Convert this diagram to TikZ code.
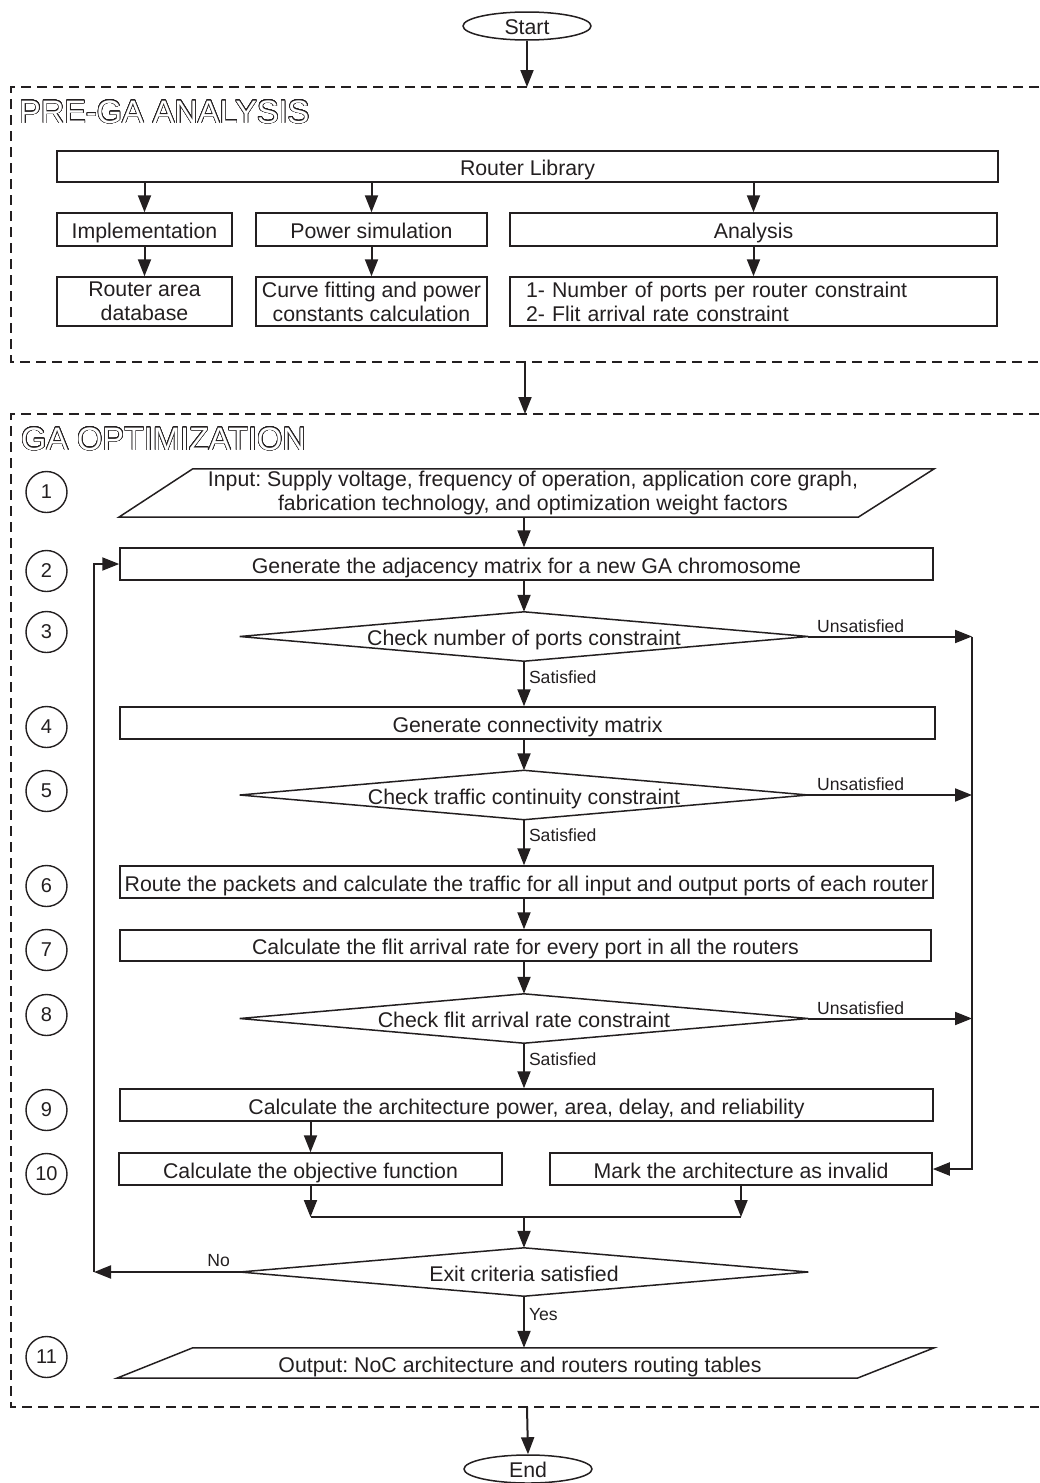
\documentclass[tikz,border=0pt]{standalone}
\usepackage{fontspec}
\setmainfont{Liberation Sans}
\usepackage{contour}
\usetikzlibrary{arrows.meta,shapes.geometric,calc}

\definecolor{ink}{RGB}{35,31,32}
\newcommand\bodyfont{\fontsize{21.3}{24}\selectfont}
\newcommand\labelfont{\fontsize{17.6}{20}\selectfont}
\newcommand\titlefont{\fontsize{32.5}{36}\selectfont}
\newcommand\numfont{\fontsize{20}{22}\selectfont}
\contourlength{0.6pt}
\contournumber{32}
\frenchspacing

\tikzset{
  box/.style={draw=ink, line width=1.5pt, inner sep=0pt, align=center, font=\bodyfont, text=ink},
  plain/.style={inner sep=0pt, align=center, font=\bodyfont, text=ink},
  oneline/.style={text height=18.2pt, text depth=0pt},
  outline/.style={draw=ink, line width=1.5pt},
  arr/.style={draw=ink, line width=2pt, -{Triangle[length=17pt,width=13pt]}},
  wire/.style={draw=ink, line width=2pt},
  frame/.style={draw=ink, line width=1.5pt, dash pattern=on 10pt off 6pt},
  stepnum/.style={circle, draw=ink, line width=1.4pt, minimum size=41pt, inner sep=0pt, font=\numfont, text=ink},
  lab/.style={font=\labelfont, text=ink, inner sep=0pt},
  term/.style={ellipse, draw=ink, line width=1.5pt, minimum width=128pt, minimum height=28pt, inner sep=0pt, font=\bodyfont, text=ink, text height=17pt, text depth=0pt},
  title/.style={anchor=base west, font=\titlefont, inner sep=0pt},
}

\begin{document}
\begin{tikzpicture}[x=1pt,y=-1pt]
\useasboundingbox (0,0) rectangle (1039,1483);

% ---------- terminals ----------
\node[term] (start) at (527,26) {Start};
\node[term] (end) at (528,1469) {End};

% ---------- frames ----------
\coordinate (preTop) at (527,87);
\coordinate (preBot) at (525,362);
\coordinate (gaTop) at (525,414);
\coordinate (gaBot) at (527,1407);
\draw[frame] (1039,87) -- (11,87) -- (11,362) -- (1039,362);
\draw[frame] (1039,414) -- (11,414) -- (11,1407) -- (1039,1407);
\node[title] (pretitle) at (19,123) {\color{white}\contour{ink}{PRE-GA ANALYSIS}};
\node[title] (gatitle) at (21,450) {\color{white}\contour{ink}{GA OPTIMIZATION}};

% ---------- pre-GA analysis ----------
\node[box, oneline, minimum width=941pt, minimum height=31pt] (rl) at (527.5,166.5) {Router Library};
\node[box, oneline, minimum width=175pt, minimum height=33pt] (impl) at (144.5,229.5) {Implementation};
\node[box, oneline, minimum width=231pt, minimum height=33pt] (pow) at (371.5,229.5) {Power simulation};
\node[box, oneline, minimum width=487pt, minimum height=33pt] (ana) at (753.5,229.5) {Analysis};
\node[box, minimum width=175pt, minimum height=49pt] (rad) at (144.5,301.5) {Router area\\database};
\node[box, minimum width=231pt, minimum height=49pt] (cfit) at (371.5,301.5) {Curve fitting and power\\constants calculation};
\node[box, minimum height=49pt, align=left, text width=455pt, inner xsep=16pt] (cons) at (753.5,301.5)
  {1- Number of ports per router constraint\\2- Flit arrival rate constraint};

\draw[arr] (rl.south -| impl.north) -- (impl.north);
\draw[arr] (rl.south -| pow.north) -- (pow.north);
\draw[arr] (rl.south -| ana.north) -- (ana.north);
\draw[arr] (impl.south) -- (rad.north);
\draw[arr] (pow.south) -- (cfit.north);
\draw[arr] (ana.south) -- (cons.north);

\draw[arr] (start.south) -- (preTop);
\draw[arr] (preBot) -- (gaTop);
\draw[arr] (gaBot) -- (end.north);

% ---------- GA optimization ----------
\coordinate (col) at (524,0);
\coordinate (rail) at (972,0);
\coordinate (loop) at (94,0);
\coordinate (jn) at (524,1217);

\node[plain, minimum width=815pt, minimum height=48pt] (inp) at (526.5,493)
  {\hspace*{13pt}Input: Supply voltage, frequency of operation, application core graph,\\\hspace*{13pt}fabrication technology, and optimization weight factors};
\draw[outline] (inp.south west) -- ($(inp.north west)+(74,0)$) -- (inp.north east) -- ($(inp.south east)+(-76,0)$) -- cycle;

\node[box, oneline, minimum width=813pt, minimum height=32pt] (adj) at (526.5,564) {Generate the adjacency matrix for a new GA chromosome};
\node[plain, oneline, minimum width=568pt, minimum height=49pt] (d3) at (524,636.5) {Check number of ports constraint};
\node[box, oneline, minimum width=815pt, minimum height=32pt] (conn) at (527.5,723) {Generate connectivity matrix};
\node[plain, oneline, minimum width=568pt, minimum height=49pt] (d5) at (524,795) {Check traffic continuity constraint};
\node[box, oneline, minimum width=813pt, minimum height=32pt] (route) at (526.5,882) {Route the packets and calculate the traffic for all input and output ports of each router};
\node[box, oneline, minimum width=811pt, minimum height=31pt] (flit) at (525.5,945.5) {Calculate the flit arrival rate for every port in all the routers};
\node[plain, oneline, minimum width=568pt, minimum height=49pt] (d8) at (524,1018.5) {Check flit arrival rate constraint};
\node[box, oneline, minimum width=813pt, minimum height=32pt] (arch) at (526.5,1105) {Calculate the architecture power, area, delay, and reliability};
\node[box, oneline, minimum width=383pt, minimum height=32pt] (obj) at (310.5,1169) {Calculate the objective function};
\node[box, oneline, minimum width=382pt, minimum height=32pt] (mark) at (741,1169) {Mark the architecture as invalid};
\node[plain, oneline, minimum width=568pt, minimum height=48pt] (exit) at (524,1272) {Exit criteria satisfied};
\node[plain, oneline, minimum width=817pt, minimum height=30pt] (out) at (525.5,1363) {\hspace*{-11pt}Output: NoC architecture and routers routing tables};
\draw[outline] (out.south west) -- ($(out.north west)+(76,0)$) -- (out.north east) -- ($(out.south east)+(-77,0)$) -- cycle;

\foreach \d in {d3,d5,d8,exit}
  \draw[outline] (\d.west) -- (\d.north) -- (\d.east) -- (\d.south) -- cycle;

% step numbers
\foreach \n/\y in {1/492,2/571,3/632,4/727,5/791,6/886,7/950,8/1015,9/1110,10/1174,11/1357}
  \node[stepnum] (s\n) at (46.5,\y) {\n};

% main flow
\draw[arr] (inp.south -| col) -- (adj.north -| col);
\draw[arr] (adj.south -| col) -- (d3.north);
\draw[arr] (d3.south) -- node[lab, pos=0.35, right=4pt] {Satisfied} (conn.north -| col);
\draw[arr] (conn.south -| col) -- (d5.north);
\draw[arr] (d5.south) -- node[lab, pos=0.35, right=4pt] {Satisfied} (route.north -| col);
\draw[arr] (route.south -| col) -- (flit.north -| col);
\draw[arr] (flit.south -| col) -- (d8.north);
\draw[arr] (d8.south) -- node[lab, pos=0.35, right=4pt] {Satisfied} (arch.north -| col);
\draw[arr] (arch.south -| obj.north) -- (obj.north);
\draw[arr] (obj.south) -- (obj.south |- jn);
\draw[arr] (mark.south) -- (mark.south |- jn);
\draw[wire] (obj.south |- jn) -- (mark.south |- jn);
\draw[arr] (jn) -- (exit.north);
\draw[arr] (exit.south) -- node[lab, pos=0.35, right=4pt] {Yes} (out.north -| col);

% failed constraints
\draw[arr] (d3.east) -- node[lab, pos=0, anchor=south west, xshift=8pt, yshift=3pt] {Unsatisfied} (d3.east -| rail);
\draw[arr] (d5.east) -- node[lab, pos=0, anchor=south west, xshift=8pt, yshift=3pt] {Unsatisfied} (d5.east -| rail);
\draw[arr] (d8.east) -- node[lab, pos=0, anchor=south west, xshift=8pt, yshift=3pt] {Unsatisfied} (d8.east -| rail);
\draw[arr] (d3.east -| rail) |- (mark.east);

% loop back for a new chromosome
\draw[arr] (exit.west) -- node[lab, pos=0, anchor=south east, xshift=-9pt, yshift=4pt] {No} (exit.west -| loop);
\draw[arr] (exit.west -| loop) |- (adj.west);
\end{tikzpicture}
\end{document}
